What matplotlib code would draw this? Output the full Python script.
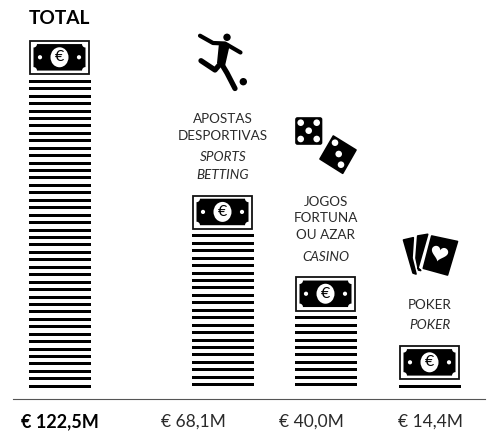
import numpy as np
import matplotlib
matplotlib.use("Agg")
import matplotlib.pyplot as plt
from matplotlib.patches import Circle, Ellipse, FancyBboxPatch, Polygon, Rectangle

plt.rcParams['font.family'] = ['Lato', 'DejaVu Sans']

# data
values = [122.5, 68.1, 40.0, 14.4]
n_lines = [42, 21, 10, 1]
value_labels = ["€ 122,5M", "€ 68,1M", "€ 40,0M", "€ 14,4M"]
pt_labels = [[], ["APOSTAS", "DESPORTIVAS"], ["JOGOS", "FORTUNA", "OU AZAR"], ["POKER"]]
en_labels = [[], ["SPORTS", "BETTING"], ["CASINO"], ["POKER"]]

# layout, in pixels of the 488x433 image
col_left = [29, 192, 295, 399]
col_base = [386.3, 384.7, 384.7, 386.3]
col_width = 62
pitch = 7.44
line_h = 3
value_x = [59.5, 193, 311, 430]
pt_y = [[], [119, 135.5], [201.7, 218, 235], [305]]
en_y = [[], [156.7, 175], [256.7], [325]]
label_x = [0, 223, 326, 430]
INK = "#000000"
TXT = "#2a2a2a"


def draw_bill(ax, left, top):
    w, h = 61, 35
    ax.add_patch(Rectangle((left + 0.8, top + 0.8), w - 1.6, h - 1.6, fc="white", ec="#111111", lw=1.3))
    # inner note with the corners cut in
    x0, x1 = left + 4.5, left + w - 4.5
    y0, y1 = top + 4, top + h - 4.5
    r = 3.5
    pts = []
    corners = [(x0, y0, 1, 1), (x1, y0, -1, 1), (x1, y1, -1, -1), (x0, y1, 1, -1)]
    for cx, cy, sx, sy in corners:
        arc = []
        for a in np.radians(np.linspace(90, 0, 6)):
            arc.append((cx + sx * r * np.cos(a), cy + sy * r * np.sin(a)))
        if sx * sy < 0:
            arc = arc[::-1]
        pts += arc
    ax.add_patch(Polygon(pts, fc=INK, ec="none"))
    cx, cy = left + w / 2, top + h / 2 - 0.3
    ax.add_patch(Ellipse((cx, cy), 18, 20, fc="white", ec="none"))
    ax.add_patch(Circle((left + 11, cy), 2.1, fc="white", ec="none"))
    ax.add_patch(Circle((left + w - 11, cy), 2.1, fc="white", ec="none"))
    ax.text(cx, cy, "€", ha="center", va="center", fontsize=11.5, color=INK)


def draw_player(ax):
    ax.add_patch(Circle((227, 37.3), 3.7, fc=INK, ec="none"))
    ax.add_patch(Circle((243.3, 81.7), 3.7, fc=INK, ec="none"))
    kw = dict(color=INK, solid_capstyle="round", solid_joinstyle="round")
    ax.plot([200, 213, 225, 240.5], [35.7, 43, 43.5, 52.5], lw=3, **kw)
    ax.add_patch(Polygon([(219, 43), (230, 44), (225, 66), (217, 63)], fc=INK, ec="none"))
    ax.plot([221, 215, 201], [63, 70, 60.7], lw=3.8, **kw)
    ax.plot([221, 227, 235], [63, 73, 88.5], lw=3.8, **kw)


def draw_dice(ax):
    ax.add_patch(FancyBboxPatch((296, 118), 25.5, 26, boxstyle="round,pad=0,rounding_size=1.5", fc=INK, ec=INK, lw=1.2))
    for px in (300.7, 316.7):
        for py in (122.7, 139):
            ax.add_patch(Circle((px, py), 3.3, fc="white", ec="none"))
    ax.add_patch(Circle((308.7, 130.7), 3.3, fc="white", ec="none"))
    ax.add_patch(Polygon([(333.3, 136), (356, 150), (342.7, 173.3), (320, 159)], fc=INK, ec=INK, lw=1.2, joinstyle="round"))
    for p in [(335, 142.7), (338.7, 154), (341, 164.7)]:
        ax.add_patch(Circle(p, 3.3, fc="white", ec="none"))


def draw_cards(ax):
    for pts in (
        [(403.5, 240), (413.3, 237.7), (412, 258), (415, 270), (416, 274), (413, 273)],
        [(417.7, 236), (427.7, 234.3), (418, 268), (420.7, 270.5), (418.5, 270), (416, 258)],
        [(431.7, 236), (457.5, 241.5), (447.5, 275), (423.3, 268.3)],
    ):
        ax.add_patch(Polygon(pts, fc=INK, ec=INK, lw=1.2, joinstyle="round"))
    t = np.linspace(0, 2 * np.pi, 60)
    hx = 16 * np.sin(t) ** 3 * 0.52
    hy = -(13 * np.cos(t) - 5 * np.cos(2 * t) - 2 * np.cos(3 * t) - np.cos(4 * t)) * 0.52
    a = np.radians(15)
    ax.add_patch(Polygon(np.c_[439.5 + hx * np.cos(a) - hy * np.sin(a), 253 + hx * np.sin(a) + hy * np.cos(a)], fc="white", ec="none"))


fig = plt.figure(figsize=(4.88, 4.33), dpi=100)
ax = fig.add_axes([0, 0, 1, 1])
ax.set_xlim(0, 488)
ax.set_ylim(433, 0)
ax.axis("off")

for i, val in enumerate(values):
    ys = col_base[i] - pitch * np.arange(n_lines[i])
    ax.barh(ys, col_width, left=col_left[i], height=line_h, color=INK, antialiased=False)
    draw_bill(ax, col_left[i], ys[-1] - 41.2)
    bold = i == 0
    ax.text(value_x[i], 422, value_labels[i], ha="center", va="center", fontsize=13 if bold else 12.5,
            color="black" if bold else TXT, fontweight="bold" if bold else "normal")
    for txt, y in zip(pt_labels[i], pt_y[i]):
        ax.text(label_x[i], y, txt, ha="center", va="center", fontsize=9.7, color=TXT)
    for txt, y in zip(en_labels[i], en_y[i]):
        ax.text(label_x[i], y, txt, ha="center", va="center", fontsize=9.7, color=TXT, style="italic")

ax.text(29, 18, "TOTAL", ha="left", va="center", fontsize=13.8, fontweight="bold", color="black")
ax.plot([13, 485], [399.3, 399.3], color="#555555", lw=0.8)

draw_player(ax)
draw_dice(ax)
draw_cards(ax)

fig.savefig("out.png", dpi=100)
